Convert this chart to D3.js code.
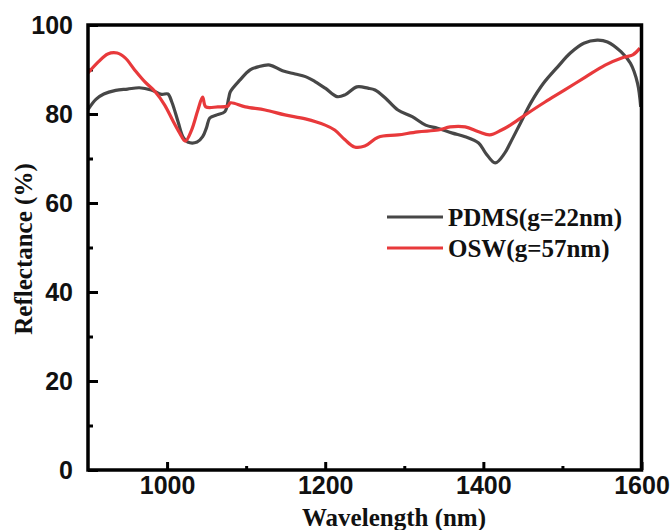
<!DOCTYPE html>
<html>
<head>
<meta charset="utf-8">
<script src="https://cdn.jsdelivr.net/npm/d3@7"></script>
<style>
  body { margin: 0; background: #fff; }
  .tick text { font-family: "Liberation Sans", Arial, sans-serif; font-weight: bold; font-size: 25px; fill: #111; }
  .lab { font-family: "Liberation Serif", "Times New Roman", serif; font-weight: bold; font-size: 25px; fill: #111; }
</style>
</head>
<body>
<script>
// wavelength (nm) / reflectance (%)
const pdmsWl = [900, 910, 920, 935, 950, 965, 980, 993, 1001, 1006, 1014, 1020, 1026, 1038, 1045, 1050, 1054, 1063, 1073, 1078, 1080, 1092, 1105, 1115, 1130, 1146, 1162, 1175, 1187, 1200, 1215, 1225, 1240, 1254, 1263, 1276, 1292, 1310, 1327, 1342, 1361, 1377, 1394, 1403, 1415, 1427, 1434, 1447, 1460, 1476, 1494, 1510, 1527, 1544, 1557, 1574, 1586, 1595, 1599]
const pdmsR = [81, 83.3, 84.5, 85.3, 85.6, 85.9, 85.4, 84.4, 84.5, 82.7, 78.2, 74.9, 73.7, 73.7, 74.9, 77, 79.1, 79.8, 80.5, 83.6, 85, 87.6, 89.9, 90.6, 91, 89.7, 89, 88.4, 87.3, 85.8, 83.9, 84.3, 86.1, 85.8, 85.4, 83.6, 80.9, 79.4, 77.5, 76.8, 75.7, 74.9, 73.5, 71.2, 69, 71.2, 73.5, 78, 82.5, 86.9, 90.6, 93.7, 95.9, 96.6, 96.2, 94, 91.4, 86.9, 81.6]

const oswWl = [900, 913, 925, 937, 947, 959, 972, 985, 997, 1007, 1016, 1023, 1031, 1039, 1045, 1049, 1064, 1077, 1080, 1099, 1124, 1149, 1175, 1200, 1212, 1225, 1237, 1250, 1267, 1292, 1317, 1343, 1358, 1377, 1394, 1408, 1423, 1434, 1453, 1478, 1503, 1529, 1554, 1575, 1589, 1598]
const oswR = [89.2, 91.7, 93.5, 93.7, 92.6, 89.9, 87.2, 85, 82, 78.6, 75.7, 73.9, 76.4, 80.9, 83.8, 81.6, 81.6, 81.8, 82.5, 81.6, 80.9, 79.8, 78.9, 77.5, 76.4, 74.2, 72.6, 72.8, 74.8, 75.3, 76, 76.4, 77.1, 77.1, 76, 75.3, 76.4, 77.5, 79.8, 82.7, 85.4, 88.3, 91, 92.6, 93.3, 94.8]

const seriesNames = ["PDMS(g=22nm)", "OSW(g=57nm)"]
const seriesColors = ["#474747", "#e8393b"]
const xMajor = [1000, 1200, 1400, 1600]
const xMinor = [1100, 1300, 1500]
const yMajor = [0, 20, 40, 60, 80, 100]
const yMinor = [10, 30, 50, 70, 90]

let width = 671
let height = 530
let margin = { top: 25, right: 30, bottom: 60, left: 88 }
let w = 641.5 - margin.left
let h = 470 - margin.top

const svg = d3.select("body").append("svg")
  .attr("width", width)
  .attr("height", height)

const g = svg.append("g")
  .attr("transform", `translate(${margin.left},${margin.top})`)

var x = d3.scaleLinear().domain([900, 1600]).range([0, w])
var y = d3.scaleLinear().domain([0, 100]).range([h, 0])

// minor ticks (no labels)
g.append("g")
  .attr("transform", `translate(0,${h})`)
  .call(d3.axisBottom(x).tickValues(xMinor).tickSize(-4).tickFormat(""))
  .call(a => a.select(".domain").remove())
g.append("g")
  .call(d3.axisLeft(y).tickValues(yMinor).tickSize(-5).tickFormat(""))
  .call(a => a.select(".domain").remove())

// major ticks
g.append("g")
  .attr("transform", `translate(0,${h})`)
  .call(d3.axisBottom(x).tickValues(xMajor).tickSize(-8).tickPadding(6).tickFormat(d3.format("d")))
  .call(a => a.select(".domain").remove())
g.append("g")
  .call(d3.axisLeft(y).tickValues(yMajor).tickSize(-10).tickPadding(15).tickFormat(d3.format("d")))
  .call(a => a.select(".domain").remove())

g.selectAll(".tick line").attr("stroke", "#000").attr("stroke-width", 3)

// curves
const line = d3.line()
  .x(d => x(d[0]))
  .y(d => y(d[1]))
  .curve(d3.curveCatmullRom)

const series = [
  d3.zip(pdmsWl, pdmsR),
  d3.zip(oswWl, oswR)
]

// draw PDMS first, then OSW on top
g.selectAll(".curve")
  .data(series)
  .join("path")
  .attr("class", "curve")
  .attr("d", line)
  .attr("fill", "none")
  .attr("stroke", (d, i) => seriesColors[i])
  .attr("stroke-width", 3.2)
  .attr("stroke-linejoin", "round")

// frame
g.append("rect")
  .attr("width", w)
  .attr("height", h)
  .attr("fill", "none")
  .attr("stroke", "#000")
  .attr("stroke-width", 3.5)

// legend
const leg = svg.append("g").attr("transform", "translate(387,217)")
seriesNames.forEach((name, i) => {
  leg.append("line")
    .attr("x1", 0).attr("x2", 56)
    .attr("y1", i * 31).attr("y2", i * 31)
    .attr("stroke", seriesColors[i])
    .attr("stroke-width", 3.2)
  leg.append("text")
    .attr("class", "lab")
    .attr("x", 61)
    .attr("y", i * 31 + 9)
    .text(name)
})

// axis titles
svg.append("text")
  .attr("class", "lab")
  .attr("text-anchor", "middle")
  .attr("x", 394)
  .attr("y", 526)
  .text("Wavelength (nm)")

svg.append("text")
  .attr("class", "lab")
  .attr("text-anchor", "middle")
  .attr("transform", "translate(32,249) rotate(-90)")
  .text("Reflectance (%)")
</script>
</body>
</html>
